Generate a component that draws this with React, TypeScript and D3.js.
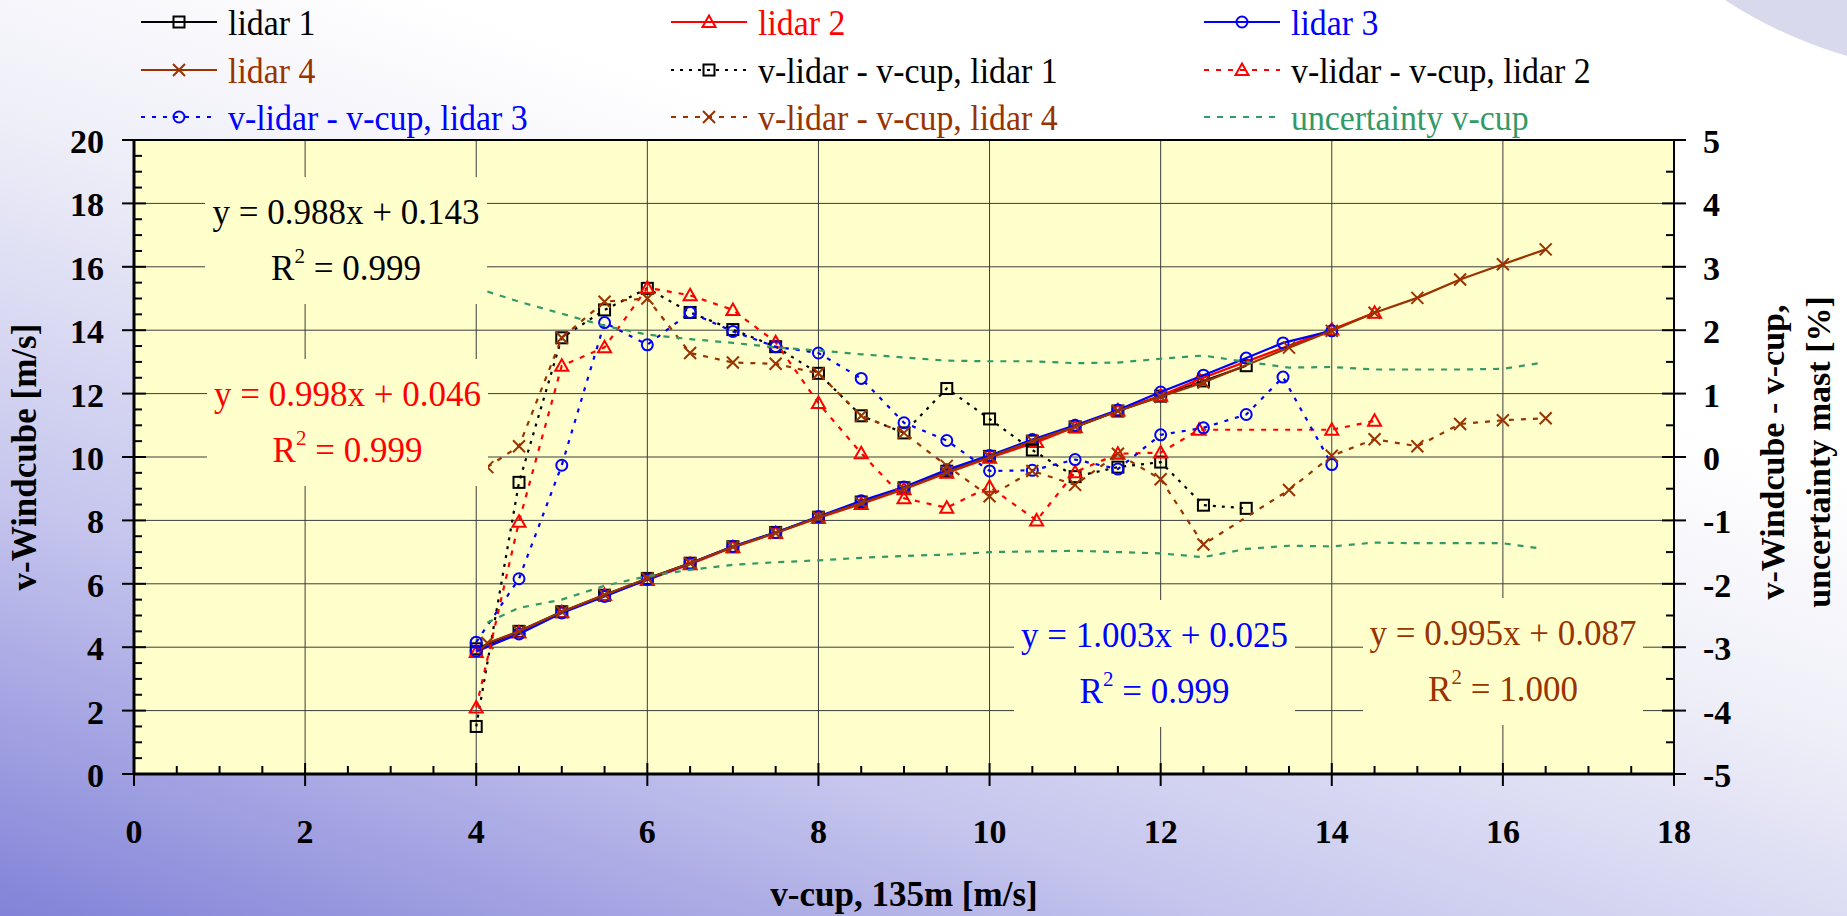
import React from 'react';
import * as d3 from 'd3';

// ---------- DATA ----------
const xTicks = [0, 2, 4, 6, 8, 10, 12, 14, 16, 18];
const leftTicks = [0, 2, 4, 6, 8, 10, 12, 14, 16, 18, 20];
const rightTicks = [-5, -4, -3, -2, -1, 0, 1, 2, 3, 4, 5];

const lidar1X = [4, 4.5, 5, 5.5, 6, 6.5, 7, 7.5, 8, 8.5, 9, 9.5, 10, 10.5, 11, 11.5, 12, 12.5, 13];
const lidar1V = [3.95, 4.5, 5.12, 5.64, 6.17, 6.65, 7.17, 7.62, 8.1, 8.58, 9.03, 9.55, 10.02, 10.5, 10.95, 11.45, 11.92, 12.4, 12.88];
const lidar1Diff = [-4.25, -0.4, 1.88, 2.32, 2.66, 2.28, 2.01, 1.74, 1.32, 0.65, 0.38, 1.08, 0.6, 0.11, -0.31, -0.16, -0.08, -0.76, -0.81];

const lidar2X = [4, 4.5, 5, 5.5, 6, 6.5, 7, 7.5, 8, 8.5, 9, 9.5, 10, 10.55, 11, 11.5, 12, 12.45, 14, 14.5];
const lidar2V = [3.85, 4.46, 5.1, 5.65, 6.12, 6.62, 7.15, 7.6, 8.08, 8.52, 8.98, 9.5, 9.98, 10.47, 10.95, 11.47, 11.93, 12.45, 14.02, 14.55];
const lidar2Diff = [-3.95, -1.02, 1.44, 1.73, 2.67, 2.55, 2.32, 1.81, 0.85, 0.06, -0.65, -0.8, -0.47, -1.0, -0.24, 0.05, 0.07, 0.43, 0.43, 0.57];

const lidar3X = [4, 4.5, 5, 5.5, 6, 6.5, 7, 7.5, 8, 8.5, 9, 9.5, 10, 10.5, 11, 11.5, 12, 12.5, 13, 13.43, 14];
const lidar3V = [3.88, 4.42, 5.08, 5.6, 6.14, 6.65, 7.18, 7.62, 8.12, 8.62, 9.05, 9.6, 10.05, 10.55, 11.0, 11.48, 12.05, 12.58, 13.12, 13.6, 13.98];
const lidar3Diff = [-2.92, -1.92, -0.13, 2.12, 1.77, 2.28, 1.98, 1.74, 1.64, 1.24, 0.54, 0.26, -0.22, -0.21, -0.04, -0.19, 0.35, 0.46, 0.67, 1.26, -0.12];

const lidar4X = [4.13, 4.5, 5, 5.5, 6, 6.5, 7, 7.5, 8, 8.5, 9, 9.5, 10, 10.5, 11, 11.5, 12, 12.5, 13.5, 14, 14.5, 15, 15.5, 16, 16.5];
const lidar4V = [4.13, 4.5, 5.12, 5.65, 6.17, 6.65, 7.17, 7.6, 8.1, 8.55, 9.0, 9.52, 10.0, 10.5, 10.95, 11.45, 11.9, 12.35, 13.45, 13.98, 14.55, 15.02, 15.6, 16.08, 16.55];
const lidar4Diff = [-0.16, 0.17, 1.88, 2.45, 2.5, 1.64, 1.49, 1.47, 1.32, 0.65, 0.38, -0.14, -0.62, -0.22, -0.44, 0.05, -0.35, -1.38, -0.52, 0.02, 0.28, 0.17, 0.52, 0.58, 0.61];

const uncX = [4.13, 4.5, 5, 5.5, 6, 6.5, 7, 7.5, 8, 8.5, 9, 9.5, 10, 10.5, 11, 11.5, 12, 12.5, 13, 13.5, 14, 14.5, 15, 15.5, 16, 16.42];
const uncUpper = [2.61, 2.45, 2.26, 2.07, 1.93, 1.86, 1.8, 1.73, 1.68, 1.62, 1.57, 1.52, 1.51, 1.51, 1.48, 1.49, 1.55, 1.6, 1.5, 1.41, 1.42, 1.38, 1.38, 1.38, 1.39, 1.48];
const uncLower = [-2.61, -2.38, -2.25, -2.03, -1.88, -1.78, -1.7, -1.66, -1.63, -1.59, -1.56, -1.54, -1.5, -1.49, -1.48, -1.5, -1.52, -1.58, -1.45, -1.4, -1.41, -1.35, -1.36, -1.36, -1.36, -1.44];

const eqLines = ['y = 0.988x + 0.143', 'y = 0.998x + 0.046', 'y = 1.003x + 0.025', 'y = 0.995x + 0.087'];
const r2Values = ['0.999', '0.999', '0.999', '1.000'];

const legendLabels = [
  'lidar 1', 'lidar 2', 'lidar 3',
  'lidar 4', 'v-lidar - v-cup, lidar 1', 'v-lidar - v-cup, lidar 2',
  'v-lidar - v-cup, lidar 3', 'v-lidar - v-cup, lidar 4', 'uncertainty v-cup',
];

// ---------- STYLE ----------
const BLACK = '#000000';
const RED = '#FF0000';
const BLUE = '#0000FF';
const BROWN = '#993300';
const GREEN = '#339966';
const FONT = '"Liberation Serif", "Times New Roman", serif';

type MarkerType = 'square' | 'triangle' | 'circle' | 'cross' | 'none';

function Marker({ type, cx, cy, color }: { type: MarkerType; cx: number; cy: number; color: string }) {
  const sw = 2;
  if (type === 'square') return <rect x={cx - 5.5} y={cy - 5.5} width={11} height={11} fill="none" stroke={color} strokeWidth={sw} />;
  if (type === 'triangle') return <path d={`M${cx},${cy - 6.5}L${cx + 6.5},${cy + 5}L${cx - 6.5},${cy + 5}Z`} fill="none" stroke={color} strokeWidth={sw} />;
  if (type === 'circle') return <circle cx={cx} cy={cy} r={5.5} fill="none" stroke={color} strokeWidth={sw} />;
  if (type === 'cross') return <path d={`M${cx - 6},${cy - 6}L${cx + 6},${cy + 6}M${cx - 6},${cy + 6}L${cx + 6},${cy - 6}`} fill="none" stroke={color} strokeWidth={sw} />;
  return null;
}

export default function App() {
  const W = 1847, H = 916;
  const L = 134, R = 1674, T = 140, B = 774;
  const x = d3.scaleLinear().domain([0, 18]).range([L, R]);
  const yL = d3.scaleLinear().domain([0, 20]).range([B, T]);
  const yR = d3.scaleLinear().domain([-5, 5]).range([B, T]);
  const line = d3.line<[number, number]>();

  const mainSeries = [
    { xs: lidar1X, vs: lidar1V, color: BLACK, marker: 'square' as MarkerType },
    { xs: lidar2X, vs: lidar2V, color: RED, marker: 'triangle' as MarkerType },
    { xs: lidar3X, vs: lidar3V, color: BLUE, marker: 'circle' as MarkerType },
    { xs: lidar4X, vs: lidar4V, color: BROWN, marker: 'cross' as MarkerType },
  ];
  const diffSeries = [
    { xs: lidar1X, vs: lidar1Diff, color: BLACK, marker: 'square' as MarkerType, dash: '3 6' },
    { xs: lidar2X, vs: lidar2Diff, color: RED, marker: 'triangle' as MarkerType, dash: '5 7' },
    { xs: lidar3X, vs: lidar3Diff, color: BLUE, marker: 'circle' as MarkerType, dash: '4 7' },
    { xs: lidar4X, vs: lidar4Diff, color: BROWN, marker: 'cross' as MarkerType, dash: '5 7' },
  ];
  const uncSeries = [
    { xs: uncX, vs: uncUpper },
    { xs: uncX, vs: uncLower },
  ];

  const legendItems = [
    { color: BLACK, text: BLACK, marker: 'square', dash: null },
    { color: RED, text: RED, marker: 'triangle', dash: null },
    { color: BLUE, text: BLUE, marker: 'circle', dash: null },
    { color: BROWN, text: BROWN, marker: 'cross', dash: null },
    { color: BLACK, text: BLACK, marker: 'square', dash: '3 6' },
    { color: RED, text: BLACK, marker: 'triangle', dash: '5 7' },
    { color: BLUE, text: BLUE, marker: 'circle', dash: '4 7' },
    { color: BROWN, text: BROWN, marker: 'cross', dash: '5 7' },
    { color: GREEN, text: GREEN, marker: 'none', dash: '6 7' },
  ];
  const legCols = [141, 671, 1204];
  const legRows = [22, 70, 117];

  const eqBoxes = [
    { x: 205, y: 177, w: 282, h: 127, color: BLACK },
    { x: 207, y: 359, w: 281, h: 127, color: RED },
    { x: 1014, y: 600, w: 281, h: 127, color: BLUE },
    { x: 1363, y: 598, w: 280, h: 127, color: BROWN },
  ];

  const leftMinor = d3.range(0, 20.01, 0.5).filter((v) => Math.abs(v % 2) > 0.01);
  const rightMinor = d3.range(-5, 5.01, 0.5).filter((v) => Math.abs(v % 1) > 0.01);
  const xMinor = d3.range(0, 18.01, 0.5).filter((v) => Math.abs(v % 2) > 0.01);

  return (
    <svg width={W} height={H} style={{ position: 'absolute', left: 0, top: 0 }} xmlns="http://www.w3.org/2000/svg">
      <defs>
        <linearGradient id="bg" gradientUnits="userSpaceOnUse" x1={0} y1={916} x2={324} y2={-36}>
          <stop offset="0" stopColor="#8282D8" />
          <stop offset="0.4" stopColor="#C6C6EE" />
          <stop offset="0.75" stopColor="#EEEEF8" />
          <stop offset="1" stopColor="#FFFFFF" />
        </linearGradient>
      </defs>
      <rect x={0} y={0} width={W} height={H} fill="url(#bg)" />
      <path d="M1725,0 L1847,0 L1847,56 C1800,42 1758,22 1725,0 Z" fill="#D9D9EE" />

      {/* plot area */}
      <rect x={L} y={T} width={R - L} height={B - T} fill="#FFFFCC" />

      {/* gridlines */}
      {leftTicks.filter((v) => v > 0 && v < 20).map((v) => (
        <line key={'gh' + v} x1={L} x2={R} y1={yL(v)} y2={yL(v)} stroke="#3c3c3c" strokeWidth={1} />
      ))}
      {xTicks.filter((v) => v > 0 && v < 18).map((v) => (
        <line key={'gv' + v} x1={x(v)} x2={x(v)} y1={T} y2={B} stroke="#3c3c3c" strokeWidth={1} />
      ))}

      {/* main series (left axis) */}
      {mainSeries.map((s, i) => (
        <g key={'m' + i}>
          <path d={line(s.xs.map((xi, j) => [x(xi), yL(s.vs[j])]))!} fill="none" stroke={s.color} strokeWidth={2.2} />
          {s.xs.map((xi, j) => (
            <Marker key={j} type={s.marker} cx={x(xi)} cy={yL(s.vs[j])} color={s.color} />
          ))}
        </g>
      ))}

      {/* difference series (right axis) */}
      {diffSeries.map((s, i) => (
        <g key={'d' + i}>
          <path d={line(s.xs.map((xi, j) => [x(xi), yR(s.vs[j])]))!} fill="none" stroke={s.color} strokeWidth={2.2} strokeDasharray={s.dash} />
          {s.xs.map((xi, j) => (
            <Marker key={j} type={s.marker} cx={x(xi)} cy={yR(s.vs[j])} color={s.color} />
          ))}
        </g>
      ))}

      {/* uncertainty */}
      {uncSeries.map((s, i) => (
        <path key={'u' + i} d={line(s.xs.map((xi, j) => [x(xi), yR(s.vs[j])]))!} fill="none" stroke={GREEN} strokeWidth={2.2} strokeDasharray="6 7" />
      ))}

      {/* equation boxes */}
      {eqBoxes.map((b, i) => {
        const cx = b.x + b.w / 2;
        return (
          <g key={'eq' + i} fontFamily={FONT} fontSize={35} fill={b.color}>
            <rect x={b.x} y={b.y} width={b.w} height={b.h} fill="#FFFFCC" />
            <text x={cx} y={b.y + 47} textAnchor="middle">{eqLines[i]}</text>
            <text x={cx} y={b.y + 103} textAnchor="middle">
              R<tspan fontSize={21} dy={-17}>2</tspan><tspan dy={17}>{' = ' + r2Values[i]}</tspan>
            </text>
          </g>
        );
      })}

      {/* axes */}
      <line x1={L} x2={R} y1={T} y2={T} stroke="#000" strokeWidth={2} />
      <line x1={L} x2={L} y1={T} y2={B} stroke="#000" strokeWidth={3} />
      <line x1={R} x2={R} y1={T} y2={B} stroke="#000" strokeWidth={2} />
      <line x1={L} x2={R} y1={B} y2={B} stroke="#000" strokeWidth={3} />

      {leftTicks.map((v) => (
        <line key={'lt' + v} x1={L - 12} x2={L + 12} y1={yL(v)} y2={yL(v)} stroke="#000" strokeWidth={2} />
      ))}
      {leftMinor.map((v) => (
        <line key={'lm' + v} x1={L} x2={L + 8} y1={yL(v)} y2={yL(v)} stroke="#000" strokeWidth={2} />
      ))}
      {rightTicks.map((v) => (
        <line key={'rt' + v} x1={R - 12} x2={R + 12} y1={yR(v)} y2={yR(v)} stroke="#000" strokeWidth={2} />
      ))}
      {rightMinor.map((v) => (
        <line key={'rm' + v} x1={R - 8} x2={R} y1={yR(v)} y2={yR(v)} stroke="#000" strokeWidth={2} />
      ))}
      {xTicks.map((v) => (
        <line key={'xt' + v} x1={x(v)} x2={x(v)} y1={B - 11} y2={B + 12} stroke="#000" strokeWidth={2} />
      ))}
      {xMinor.map((v) => (
        <line key={'xm' + v} x1={x(v)} x2={x(v)} y1={B - 8} y2={B} stroke="#000" strokeWidth={2} />
      ))}

      {/* tick labels */}
      <g fontFamily={FONT} fontWeight="bold" fontSize={34} fill="#000">
        {leftTicks.map((v) => (
          <text key={'ll' + v} x={104} y={yL(v) + 13} textAnchor="end">{v}</text>
        ))}
        {rightTicks.map((v) => (
          <text key={'rl' + v} x={1703} y={yR(v) + 13} textAnchor="start">{v}</text>
        ))}
        {xTicks.map((v) => (
          <text key={'xl' + v} x={x(v)} y={843} textAnchor="middle">{v}</text>
        ))}
        <text x={(L + R) / 2} y={906} textAnchor="middle" fontSize={35}>v-cup, 135m [m/s]</text>
        <text transform={`translate(36,${(T + B) / 2}) rotate(-90)`} textAnchor="middle" fontSize={35}>v-Windcube [m/s]</text>
        <text transform={`translate(1784,452) rotate(-90)`} textAnchor="middle" fontSize={34}>v-Windcube - v-cup,</text>
        <text transform={`translate(1830,452) rotate(-90)`} textAnchor="middle" fontSize={34}>uncertainty mast [%]</text>
      </g>

      {/* legend */}
      <g fontFamily={FONT} fontSize={36}>
        {legendItems.map((it, i) => {
          const cx = legCols[i % 3];
          const cy = legRows[Math.floor(i / 3)];
          return (
            <g key={'lg' + i}>
              <line x1={cx} x2={cx + 76} y1={cy} y2={cy} stroke={it.color} strokeWidth={2} strokeDasharray={it.dash || undefined} />
              <Marker type={it.marker as MarkerType} cx={cx + 38} cy={cy} color={it.color} />
              <text transform={`translate(${cx + 87},${cy + 12.5}) scale(0.94,1)`} fill={it.text}>{legendLabels[i]}</text>
            </g>
          );
        })}
      </g>
    </svg>
  );
}
